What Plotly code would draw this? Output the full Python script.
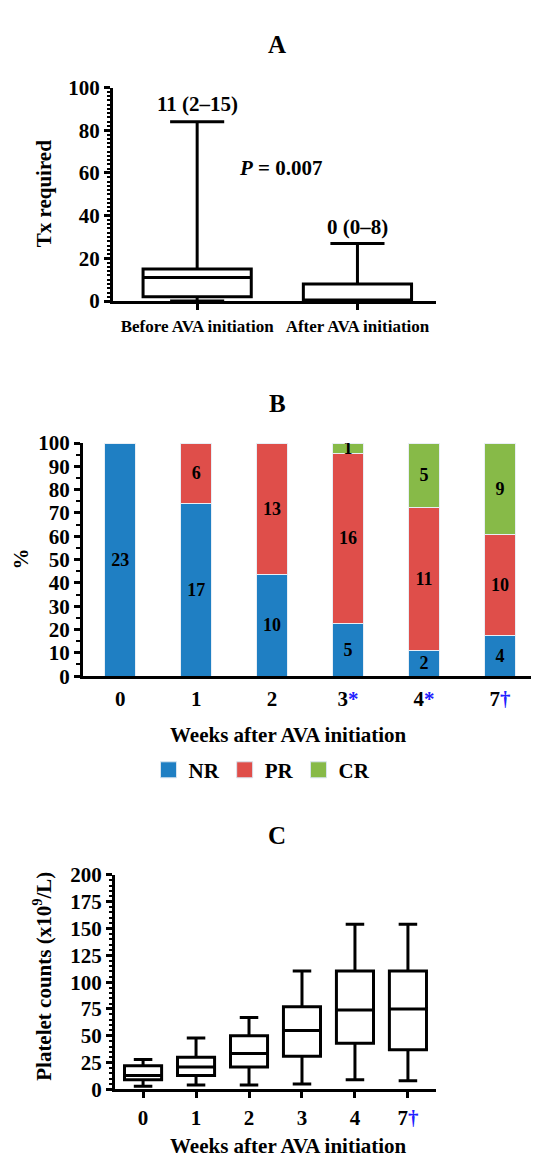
import plotly.graph_objects as go

W, H = 539, 1160
FONT = "Liberation Serif"

# ---------- Panel A data ----------
a_groups = ["Before AVA initiation", "After AVA initiation"]
a_lower = [0, 0]
a_q1 = [2, 0]
a_median = [11, 0]
a_q3 = [15, 8]
a_upper = [84, 27]
a_labels = ["11 (2–15)", "0 (0–8)"]
a_label_y = [92.5, 34.5]
a_pvalue = "<i>P</i> = 0.007"

# ---------- Panel B data ----------
b_weeks = ["0", "1", "2", "3<span style='color:#2020ff'>*</span>",
           "4<span style='color:#2020ff'>*</span>", "7<span style='color:#2020ff'>†</span>"]
b_nr = [23, 17, 10, 5, 2, 4]
b_pr = [0, 6, 13, 16, 11, 10]
b_cr = [0, 0, 0, 1, 5, 9]
b_names = ["NR", "PR", "CR"]
b_colors = ["#1f7fc3", "#df4e4a", "#87ba48"]

# ---------- Panel C data ----------
c_weeks = ["0", "1", "2", "3", "4", "7<span style='color:#2020ff'>†</span>"]
c_lower = [3, 4, 4, 5, 9, 8]
c_q1 = [9, 13, 21, 31, 43, 37]
c_median = [13, 21, 33.5, 55, 74, 75]
c_q3 = [22, 30, 50, 77, 110.5, 110.5]
c_upper = [28, 48, 67, 110.5, 154, 154]


def px_x(p):
    return p / W


def px_y(p):
    return 1 - p / H


fig = go.Figure()

# Panel A boxes
fig.add_trace(go.Box(
    x=[0, 1], q1=a_q1, median=a_median, q3=a_q3,
    lowerfence=a_lower, upperfence=a_upper,
    width=0.675, whiskerwidth=0.5, boxpoints=False,
    fillcolor="white", line=dict(color="black", width=3),
    xaxis="x", yaxis="y", showlegend=False, hoverinfo="skip"))

# Panel B stacked bars
totals = [n + p + c for n, p, c in zip(b_nr, b_pr, b_cr)]
for name, counts, col in zip(b_names, [b_nr, b_pr, b_cr], b_colors):
    idx = [i for i, c in enumerate(counts) if c > 0]
    fig.add_trace(go.Bar(
        x=idx, y=[counts[i] / totals[i] * 100 for i in idx], name=name,
        text=[str(counts[i]) for i in idx],
        textposition="inside", insidetextanchor="middle",
        constraintext="none", textangle=0,
        textfont=dict(family=FONT, size=18, color="black", weight="bold"),
        marker=dict(color=col, line=dict(color="#e8eef5", width=1)),
        width=0.41, xaxis="x2", yaxis="y2", hoverinfo="skip",
        showlegend=False))
# legend entries (large square swatches)
for name, col in zip(b_names, b_colors):
    fig.add_trace(go.Scatter(
        x=[None], y=[None], mode="markers", name=name,
        marker=dict(symbol="square", size=16, color=col,
                    line=dict(color="#d8e4ef", width=1)),
        xaxis="x2", yaxis="y2", hoverinfo="skip"))

# Panel C boxes
fig.add_trace(go.Box(
    x=list(range(len(c_weeks))), q1=c_q1, median=c_median, q3=c_q3,
    lowerfence=c_lower, upperfence=c_upper,
    width=0.7, whiskerwidth=0.5, boxpoints=False,
    fillcolor="white", line=dict(color="black", width=3),
    xaxis="x3", yaxis="y3", showlegend=False, hoverinfo="skip"))

tickfont = dict(family=FONT, size=21, color="black", weight="bold")
axis_common = dict(showline=True, linecolor="black", linewidth=3,
                   showgrid=False, zeroline=False, ticks="outside",
                   tickcolor="black", tickwidth=3, ticklen=6,
                   tickfont=tickfont)

fig.update_layout(
    width=W, height=H,
    margin=dict(l=0, r=0, t=0, b=0),
    paper_bgcolor="white", plot_bgcolor="white",
    barmode="stack",
    font=dict(family=FONT, color="black"),
    showlegend=True,
    legend=dict(orientation="h", x=px_x(254), xanchor="center",
                y=px_y(766), yanchor="middle",
                font=dict(family=FONT, size=21, color="black", weight="bold"),
                itemwidth=30, traceorder="normal"),
    # Panel A
    xaxis=dict(domain=[px_x(105), px_x(428)], range=[-0.525, 1.49],
               tickvals=[0, 1], ticktext=a_groups, anchor="y",
               ticklabelstandoff=2,
               **{**axis_common, "tickfont": dict(family=FONT, size=17, color="black", weight="bold")}),
    yaxis=dict(domain=[px_y(287), px_y(69)], range=[0, 100],
               tickvals=[0, 20, 40, 60, 80, 100], anchor="x",
               minor=dict(dtick=2, ticks="outside", ticklen=3, tickwidth=2, tickcolor="black"),
               **axis_common),
    # Panel B
    xaxis2=dict(domain=[px_x(75), 1.0], range=[-0.49, 5.62],
                tickvals=list(range(6)), ticktext=b_weeks, anchor="y2",
                ticklabelstandoff=2,
                **{**axis_common, "ticks": ""}),
    yaxis2=dict(domain=[px_y(670), px_y(432)], range=[0, 100],
                tickvals=list(range(0, 101, 10)), anchor="x2",
                minor=dict(dtick=5, ticks="outside", ticklen=4, tickwidth=2, tickcolor="black"),
                **axis_common),
    # Panel C
    xaxis3=dict(domain=[px_x(107), px_x(428)], range=[-0.53, 5.53],
                tickvals=list(range(6)), ticktext=c_weeks, anchor="y3",
                ticklabelstandoff=1,
                **axis_common),
    yaxis3=dict(domain=[px_y(1092), px_y(873)], range=[0, 200],
                tickvals=list(range(0, 201, 25)), anchor="x3",
                minor=dict(dtick=5, ticks="outside", ticklen=3, tickwidth=2, tickcolor="black"),
                **axis_common),
)

titlefont = dict(family=FONT, size=25, color="black", weight="bold")
labfont = dict(family=FONT, size=21, color="black", weight="bold")
ann = []
# Panel titles
for t, yp in [("A", 25), ("B", 392), ("C", 833)]:
    ann.append(dict(text=t, x=px_x(269), y=px_y(yp), xref="paper", yref="paper",
                    showarrow=False, font=titlefont, xanchor="center", yanchor="middle"))
# Axis titles
ann.append(dict(text="Tx required", x=px_x(36), y=px_y(178), xref="paper", yref="paper",
                textangle=-90, showarrow=False, font=labfont, xanchor="center", yanchor="middle"))
ann.append(dict(text="%", x=px_x(13), y=px_y(551), xref="paper", yref="paper",
                textangle=-90, showarrow=False, font=labfont, xanchor="center", yanchor="middle"))
ann.append(dict(text="Platelet counts (x10<sup>9</sup>/L)", x=px_x(35), y=px_y(977),
                xref="paper", yref="paper", textangle=-90, showarrow=False,
                font=labfont, xanchor="center", yanchor="middle"))
ann.append(dict(text="Weeks after AVA initiation", x=px_x(280), y=px_y(730),
                xref="paper", yref="paper", showarrow=False, font=labfont,
                xanchor="center", yanchor="middle"))
ann.append(dict(text="Weeks after AVA initiation", x=px_x(280), y=px_y(1150),
                xref="paper", yref="paper", showarrow=False, font=labfont,
                xanchor="center", yanchor="middle"))
# Panel A value labels
for i, (lab, ly) in enumerate(zip(a_labels, a_label_y)):
    ann.append(dict(text=lab, x=i, y=ly, xref="x", yref="y", showarrow=False,
                    font=labfont, xanchor="center", yanchor="middle"))
ann.append(dict(text=a_pvalue, x=0.525, y=62.3, xref="x", yref="y", showarrow=False,
                font=labfont, xanchor="center", yanchor="middle"))
fig.update_layout(annotations=ann)

fig.write_html("out.html")
